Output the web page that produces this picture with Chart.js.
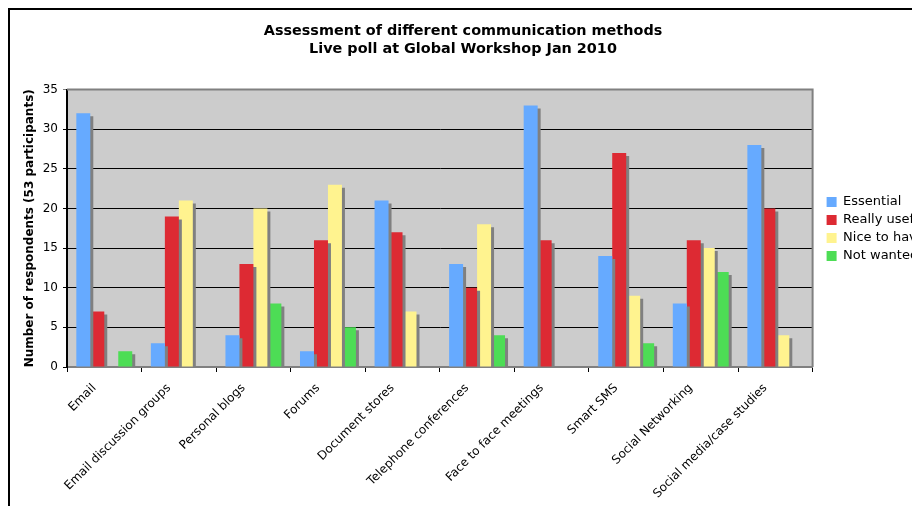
<!DOCTYPE html>
<html>
<head>
<meta charset="utf-8">
<script src="https://cdn.jsdelivr.net/npm/chart.js@4.4.1/dist/chart.umd.min.js"></script>
<style>
  html, body { margin: 0; padding: 0; background: #fff; overflow: hidden; }
  #wrap { position: relative; width: 912px; height: 506px; overflow: hidden; }
  #frame { position: absolute; left: 8px; top: 8px; width: 1000px; height: 600px;
           border-top: 2px solid #000; border-left: 2px solid #000; }
  #box { position: absolute; left: 0; top: 0; width: 960px; height: 506px; }
</style>
</head>
<body>
<div id="wrap">
  <div id="frame"></div>
  <div id="box"><canvas id="barChart"></canvas></div>
</div>
<script>
    var categories = ["Email", "Email discussion groups", "Personal blogs", "Forums", "Document stores",
        "Telephone conferences", "Face to face meetings", "Smart SMS", "Social Networking", "Social media/case studies"];
    var essential = [32, 3, 4, 2, 21, 13, 33, 14, 8, 28];
    var reallyUseful = [7, 19, 13, 16, 17, 10, 16, 27, 16, 20];
    var niceToHave = [0, 21, 20, 23, 7, 18, 0, 9, 15, 4];
    var notWanted = [2, 0, 8, 5, 0, 4, 0, 3, 12, 0];
    var yTicks = [0, 5, 10, 15, 20, 25, 30, 35];

    var font = "'DejaVu Sans', Verdana, sans-serif";

    // grey plot area + border, like the old Excel chart
    var plotBg = {
        id: 'plotBg',
        beforeDraw: function (chart) {
            var a = chart.chartArea, ctx = chart.ctx;
            ctx.save();
            ctx.fillStyle = '#cccccc';
            ctx.fillRect(a.left, a.top, a.right - a.left, a.bottom - a.top);
            ctx.restore();
        },
        afterDraw: function (chart) {
            var a = chart.chartArea, ctx = chart.ctx;
            ctx.save();
            ctx.strokeStyle = '#808080';
            ctx.lineWidth = 2;
            ctx.beginPath();
            ctx.moveTo(a.left, a.top);
            ctx.lineTo(a.right, a.top);
            ctx.lineTo(a.right, a.bottom);
            ctx.stroke();
            ctx.restore();
        }
    };

    // drop shadow behind bars
    var barShadow = {
        id: 'barShadow',
        beforeDatasetsDraw: function (chart) {
            var ctx = chart.ctx;
            ctx.save();
            ctx.shadowColor = '#808080';
            ctx.shadowOffsetX = 3;
            ctx.shadowOffsetY = 3;
            ctx.shadowBlur = 0;
        },
        afterDatasetsDraw: function (chart) {
            chart.ctx.restore();
        }
    };

    var ctxB = document.getElementById("barChart").getContext('2d');
    var myBarChart = new Chart(ctxB, {
        type: 'bar',
        data: {
            labels: categories,
            datasets: [
                { label: "Essential", data: essential, backgroundColor: '#66aaff' },
                { label: "Really useful", data: reallyUseful, backgroundColor: '#dd2a33' },
                { label: "Nice to have", data: niceToHave, backgroundColor: '#fff38f' },
                { label: "Not wanted", data: notWanted, backgroundColor: '#4ddd55' }
            ]
        },
        options: {
            responsive: true,
            maintainAspectRatio: false,
            animation: false,
            datasets: {
                bar: { categoryPercentage: 0.75, barPercentage: 1.0, borderWidth: 0, inflateAmount: 0 }
            },
            layout: { padding: { top: 16, right: 24, left: -10, bottom: 0 } },
            plugins: {
                title: {
                    display: true,
                    text: ["Assessment of different communication methods", "Live poll at Global Workshop Jan 2010"],
                    color: '#000',
                    font: { family: font, size: 14.4, weight: 'bold', lineHeight: 1.27 },
                    padding: { top: 6, bottom: 31 }
                },
                legend: {
                    position: 'right',
                    align: 'start',
                    title: { display: true, text: ' ', font: { size: 12 }, padding: 80 },
                    labels: {
                        color: '#000',
                        font: { family: font, size: 13 },
                        boxWidth: 10,
                        boxHeight: 10,
                        padding: 5
                    }
                },
                tooltip: { enabled: false }
            },
            scales: {
                x: {
                    afterFit: function (scale) { scale.height = 139; },
                    grid: { display: true, drawOnChartArea: false, tickLength: 5, color: '#000', offset: true },
                    border: { color: '#808080', width: 2 },
                    ticks: {
                        color: '#000',
                        font: { family: font, size: 12 },
                        minRotation: 45,
                        maxRotation: 45,
                        autoSkip: false,
                        labelOffset: -10,
                        padding: 9
                    }
                },
                y: {
                    min: 0,
                    max: 35,
                    afterFit: function (scale) { scale.width = 77; },
                    afterBuildTicks: function (scale) {
                        scale.ticks = yTicks.map(function (v) { return { value: v }; });
                    },
                    grid: {
                        color: function (c) { return c.tick && c.tick.value === 35 ? '#808080' : '#000'; },
                        tickLength: 4
                    },
                    border: { color: '#000', width: 2 },
                    ticks: {
                        color: '#000',
                        font: { family: font, size: 12 },
                        padding: 5
                    },
                    title: {
                        display: true,
                        text: "Number of respondents (53 participants)",
                        color: '#000',
                        font: { family: font, size: 12, weight: 'bold' },
                        padding: { top: 33, bottom: 0 }
                    }
                },
                // empty right axis, only keeps a gap between plot and legend
                gap: {
                    type: 'linear',
                    position: 'right',
                    display: true,
                    afterFit: function (scale) { scale.width = 9; },
                    grid: { display: false },
                    border: { display: false },
                    ticks: { display: false }
                }
            }
        },
        plugins: [plotBg, barShadow]
    });
</script>
</body>
</html>
